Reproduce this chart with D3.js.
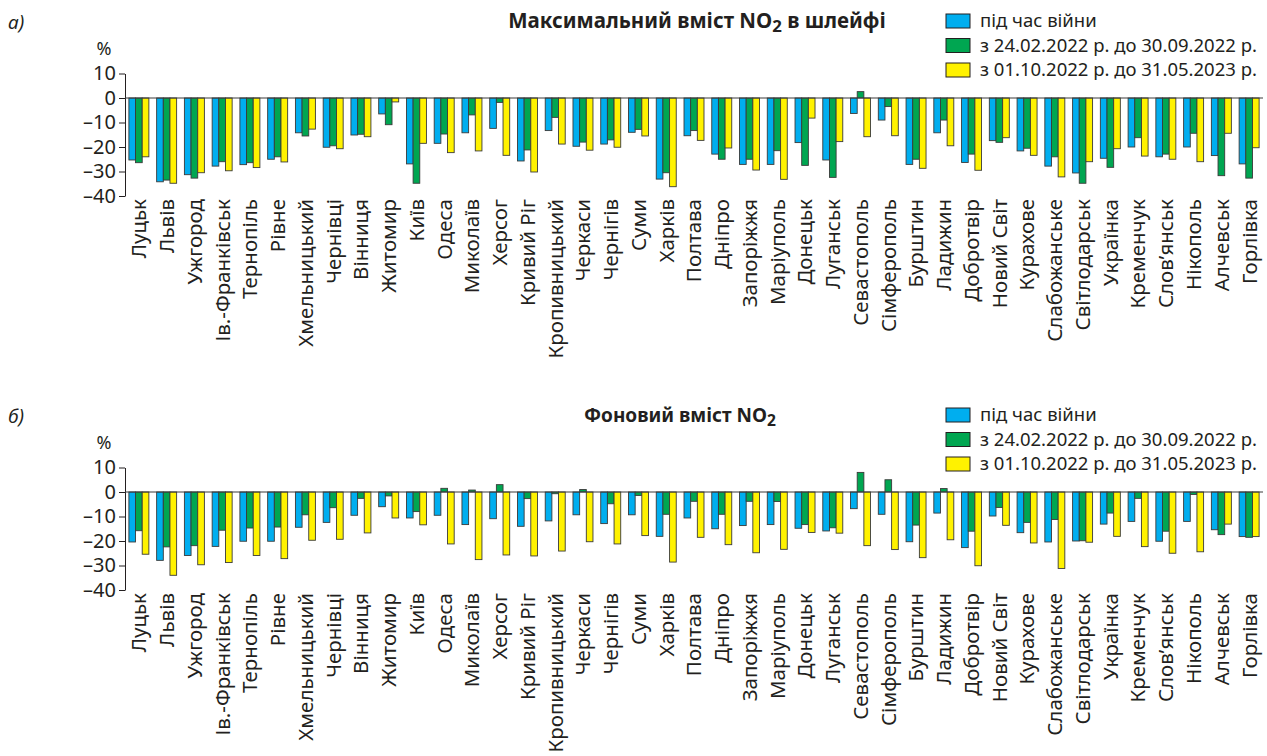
<!DOCTYPE html>
<html>
<head>
<meta charset="utf-8">
<script src="https://cdn.jsdelivr.net/npm/d3@7"></script>
<style>
body { margin: 0; background: #fff; }
svg text { font-family: "Noto Sans", "Open Sans", sans-serif; fill: #231f20; }
</style>
</head>
<body>
<div class="chart"></div>
<script>
const cities = ["Луцьк","Львів","Ужгород","Ів.-Франківськ","Тернопіль","Рівне","Хмельницький","Чернівці","Вінниця","Житомир","Київ","Одеса","Миколаїв","Херсог","Кривий Ріг","Кропивницький","Черкаси","Чернігів","Суми","Харків","Полтава","Дніпро","Запоріжжя","Маріуполь","Донецьк","Луганськ","Севастополь","Сімферополь","Бурштин","Ладижин","Добротвір","Новий Світ","Курахове","Слабожанське","Світлодарськ","Українка","Кременчук","Слов’янськ","Нікополь","Алчевськ","Горлівка"];

const seriesNames = ["під час війни", "з 24.02.2022 р. до 30.09.2022 р.", "з 01.10.2022 р. до 31.05.2023 р."];
const seriesColors = ["#00aeef", "#00a651", "#fff200"];
const yTicks = [10, 0, -10, -20, -30, -40];

// а) максимальний вміст у шлейфі
const maxDuring = [-25.3,-34.2,-31.3,-27.8,-27.2,-25,-14.2,-20.1,-15.1,-6.5,-26.9,-18.5,-14.2,-12.4,-25.7,-13.3,-19.7,-18.8,-14,-33.1,-15.4,-22.9,-27.1,-27.1,-18.2,-25.3,-6.3,-9,-27.1,-14.2,-26.3,-17.4,-21.6,-27.8,-30.6,-24.6,-20,-24,-20,-23.5,-26.9];
const maxFirst = [-26.4,-33.5,-32.7,-26,-26.4,-24,-15.5,-19.5,-14.8,-10.9,-34.8,-14.7,-6.9,-1.8,-21.2,-7.9,-18,-17.1,-12.8,-30.5,-13.3,-25,-25,-21.5,-27.5,-32.4,2.6,-3.5,-25,-9,-22.9,-18.1,-20.5,-24,-34.8,-28.3,-16.2,-22.9,-14.4,-31.7,-32.7];
const maxSecond = [-24,-34.8,-30.5,-29.7,-28.4,-26.1,-12.7,-20.7,-15.8,-1.6,-18.5,-22.3,-21.6,-23.4,-30.2,-18.8,-21.3,-20.1,-15.5,-36.2,-17.3,-20.4,-29.4,-33.2,-8.2,-17.8,-15.8,-15.4,-28.7,-19.5,-29.5,-16.2,-23.4,-32.2,-26,-20.7,-23.7,-25,-26,-14.4,-20.3];

// б) фоновий вміст
const bgDuring = [-20.4,-27.9,-25.9,-22.2,-20.1,-20.1,-14.4,-12.4,-9.5,-6,-10.6,-9.5,-13.3,-10.9,-14,-11.8,-9.3,-12.9,-9.3,-18.1,-10.6,-15,-13.7,-13.3,-14.8,-15.9,-6.8,-9.1,-20.3,-8.6,-22.7,-9.8,-16.6,-20.4,-20,-13.1,-12,-20.1,-12,-15.4,-18.2];
const bgFirst = [-15.8,-22.4,-21.9,-15.6,-14.7,-14.3,-9.3,-6.4,-2.6,-1.6,-8,1.5,0.8,3,-2.7,-0.7,1,-4.8,-1.4,-9.1,-3.8,-9.1,-3.8,-3.9,-13.3,-14.6,8,5,-13.5,1.4,-16,-6.3,-12.4,-11.2,-19.9,-8.6,-2.6,-16,-1,-17.4,-18.5];
const bgSecond = [-25.4,-34,-29.7,-28.8,-25.9,-27.2,-19.7,-19.3,-16.7,-10.6,-13.4,-21.2,-27.6,-25.7,-26.1,-24.1,-20.3,-21.2,-17.8,-28.6,-18.5,-21.5,-24.8,-23.4,-16.5,-16.8,-21.9,-23.5,-26.8,-19.5,-30.1,-13.6,-20.8,-31.2,-20.5,-18.1,-22.3,-25,-24.4,-13.1,-18.2];

const width = 1267, height = 756;
const svg = d3.select('.chart').append('svg')
    .attr('width', width)
    .attr('height', height);

const x = d3.scaleBand()
    .domain(cities)
    .range([125, 1263])
    .paddingInner(0.28)
    .paddingOuter(0.14);

const xSub = d3.scaleBand()
    .domain([0, 1, 2])
    .range([0, x.bandwidth()]);

function drawPanel(top, letter, title, tail, titleX, titleSize, series) {
    const g = svg.append('g').attr('transform', `translate(0,${top})`);
    const y = d3.scaleLinear().domain([-40, 10]).range([196, 73.5]);

    g.append('text')
        .attr('x', 8).attr('y', 29)
        .attr('font-size', 19)
        .attr('font-style', 'italic')
        .text(letter);

    const t = g.append('text')
        .attr('x', titleX).attr('y', 28)
        .attr('text-anchor', 'middle')
        .attr('font-size', titleSize)
        .attr('font-weight', 'bold');
    t.append('tspan').text(title);
    t.append('tspan').attr('font-size', titleSize * 0.82).attr('dy', 4).text('2');
    if (tail) t.append('tspan').attr('dy', -4).text(tail);

    g.append('text')
        .attr('x', 104).attr('y', 55)
        .attr('text-anchor', 'middle')
        .attr('font-size', 18)
        .text('%');

    const axis = d3.axisLeft(y)
        .tickValues(yTicks)
        .tickSize(6)
        .tickSizeOuter(0)
        .tickFormat(d => d < 0 ? '–' + Math.abs(d) : d);
    const ax = g.append('g')
        .attr('transform', 'translate(125,0)')
        .call(axis);
    ax.select('.domain').attr('stroke', '#231f20');
    ax.selectAll('.tick line').attr('stroke', '#231f20');
    ax.selectAll('.tick text')
        .attr('font-size', 20)
        .attr('font-family', '"Noto Sans", sans-serif')
        .attr('fill', '#231f20');

    const rows = [];
    cities.forEach((c, i) => series.forEach((s, k) => rows.push({city: c, k: k, v: s[i]})));

    g.selectAll('rect.bar')
        .data(rows)
        .enter()
        .append('rect')
        .attr('class', 'bar')
        .attr('x', d => x(d.city) + xSub(d.k))
        .attr('y', d => y(Math.max(0, d.v)))
        .attr('width', xSub.bandwidth())
        .attr('height', d => Math.abs(y(d.v) - y(0)))
        .attr('fill', d => seriesColors[d.k])
        .attr('stroke', '#3a3a3a')
        .attr('stroke-width', 0.9);

    g.append('line')
        .attr('x1', 125).attr('x2', 1263)
        .attr('y1', y(0)).attr('y2', y(0))
        .attr('stroke', '#3a3a3a')
        .attr('stroke-width', 1);

    g.selectAll('text.city')
        .data(cities)
        .enter()
        .append('text')
        .attr('class', 'city')
        .attr('transform', d => `translate(${x(d) + x.bandwidth() / 2},${y(-40) + 3}) rotate(-90)`)
        .attr('text-anchor', 'end')
        .attr('dy', '0.36em')
        .attr('font-size', 20.5)
        .text(d => d);

    const leg = g.selectAll('g.leg')
        .data(seriesNames)
        .enter()
        .append('g')
        .attr('class', 'leg')
        .attr('transform', (d, i) => `translate(946,${14 + i * 24.5})`);
    leg.append('rect')
        .attr('width', 24).attr('height', 14)
        .attr('fill', (d, i) => seriesColors[i])
        .attr('stroke', '#231f20')
        .attr('stroke-width', 1);
    leg.append('text')
        .attr('x', 34).attr('y', 13)
        .attr('font-size', 18.5)
        .text(d => d);
}

drawPanel(0, 'а)', 'Максимальний вміст NO', ' в шлейфі', 697, 20.5, [maxDuring, maxFirst, maxSecond]);
drawPanel(394, 'б)', 'Фоновий вміст NO', '', 680, 19, [bgDuring, bgFirst, bgSecond]);
</script>
</body>
</html>
